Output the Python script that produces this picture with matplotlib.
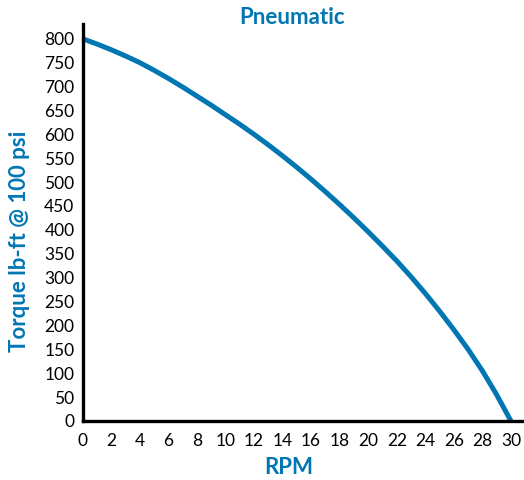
import matplotlib
matplotlib.use('Agg')
import matplotlib.pyplot as plt

BLUE = '#0076B3'

# torque curve, every RPM
rpm = list(range(0, 31))
torque = [800, 789, 777, 764, 750, 734, 717, 699, 680, 661,
          641, 621, 600, 578, 555, 531, 506, 480, 453, 425,
          396, 366, 335, 302, 267, 230, 191, 150, 105, 55, 0]

x_ticks = list(range(0, 31, 2))
y_ticks = list(range(0, 801, 50))

plt.rcParams['font.family'] = ['Lato', 'DejaVu Sans']

fig = plt.figure(figsize=(5.24, 4.8), dpi=100)
ax = fig.add_axes([0.158, 0.123, 0.838, 0.827])

ax.plot(rpm, torque, color=BLUE, linewidth=3.6, solid_capstyle='butt',
        solid_joinstyle='round', clip_on=False)

ax.set_xlim(0, 30.77)
ax.set_ylim(0, 831)
ax.set_xticks(x_ticks)
ax.set_yticks(y_ticks)
ax.tick_params(axis='both', length=0, labelsize=12.5, colors='black')
ax.tick_params(axis='x', pad=9)
ax.tick_params(axis='y', pad=6)

for side in ('top', 'right'):
    ax.spines[side].set_visible(False)
for side in ('left', 'bottom'):
    ax.spines[side].set_linewidth(2.4)
    ax.spines[side].set_color('black')

ax.set_xlabel('RPM', color=BLUE, fontsize=16, fontweight='bold')
ax.xaxis.set_label_coords((289 - 83) / 439, -(468 - 421) / 397)
ax.xaxis.label.set_va('center')
ax.set_ylabel('Torque lb-ft @ 100 psi', color=BLUE, fontsize=16, fontweight='bold')
ax.yaxis.set_label_coords(-(83 - 20) / 439, (421 - 241) / 397)
ax.yaxis.label.set_va('center')

fig.text(292 / 524, 1 - 17 / 480, 'Pneumatic', color=BLUE, fontsize=16,
         fontweight='bold', ha='center', va='center')

fig.savefig('out.png', dpi=100)
